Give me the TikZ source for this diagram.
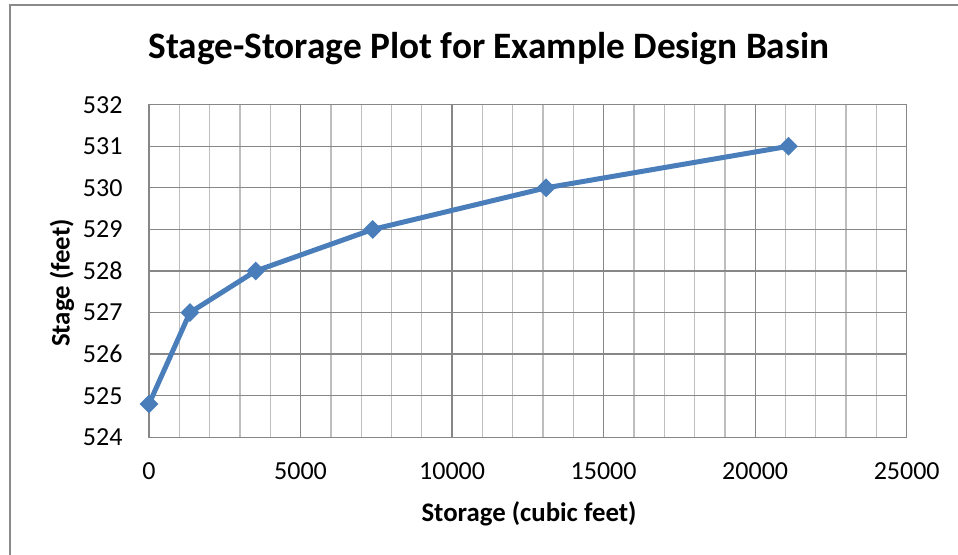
\documentclass[tikz,border=0pt]{standalone}
\usepackage{fontspec}
\setmainfont{Carlito}
\usetikzlibrary{shapes.geometric}
\definecolor{serieblue}{HTML}{4A7EBB}
\definecolor{majgrid}{HTML}{878787}
\definecolor{mingrid}{HTML}{BEBEBE}
\definecolor{framegray}{HTML}{8A8A8A}
\tikzset{
  minorgrid/.style={draw=mingrid, line width=1.3pt},
  majorgrid/.style={draw=majgrid, line width=1.3pt},
  ticklab/.style={font=\fontsize{26}{28}\selectfont, inner sep=0pt},
  axtitle/.style={font=\fontsize{26.8}{28}\selectfont\bfseries, inner sep=0pt},
  serieline/.style={draw=serieblue, line width=5pt, line join=round},
  marker/.style={diamond, fill=serieblue, draw=none, minimum width=19pt, minimum height=19pt, inner sep=0pt},
}
\begin{document}
\begin{tikzpicture}[x=1pt,y=1pt]
\useasboundingbox (0,0) rectangle (958,554);
% chart frame (only left and top edges visible)
\coordinate (fbl) at (10,-5);
\coordinate (ftl) at (10,549);
\coordinate (ftr) at (965,549);
\draw[framegray, line width=2pt] (fbl) -- (ftl) -- (ftr);
% title
\node[font=\fontsize{37.3}{39}\selectfont\bfseries, inner sep=0pt, anchor=base] (title) at (489,495) {Stage-Storage Plot for Example Design Basin};
% storage in thousands of cubic feet, stage minus 524 ft
\begin{scope}[shift={(149,116.7)}, x=30.308pt, y=41.575pt]
  % minor vertical grid
  \foreach \v in {1,...,24} {
    \draw[minorgrid] (\v,0) -- (\v,8);
  }
  % major vertical grid
  \foreach \v in {5,10,15,20} {
    \draw[majorgrid] (\v,0) -- (\v,8);
  }
  % horizontal grid
  \foreach \h in {1,...,7} {
    \draw[majorgrid] (0,\h) -- (25,\h);
  }
  \draw[majorgrid] (0,0) rectangle (25,8);
  % y tick labels
  \foreach \h/\lab in {0/524,1/525,2/526,3/527,4/528,5/529,6/530,7/531,8/532} {
    \node[ticklab, anchor=east] (yl\lab) at (-0.87,\h) {\lab};
  }
  % x tick labels
  \foreach \v/\lab in {0/0,5/5000,10/10000,15/15000,20/20000,25/25000} {
    \node[ticklab, anchor=base] (xl\v) at (\v,-1.025) {\lab};
  }
  % data
  \coordinate (p1) at (0,0.8);
  \coordinate (p2) at (1.35,3);
  \coordinate (p3) at (3.52,4);
  \coordinate (p4) at (7.38,5);
  \coordinate (p5) at (13.1,6);
  \coordinate (p6) at (21.1,7);
  \draw[serieline] (p1) -- (p2) -- (p3) -- (p4) -- (p5) -- (p6);
  \foreach \p in {p1,p2,p3,p4,p5,p6} {
    \node[marker] (m\p) at (\p) {};
  }
\end{scope}
% axis titles
\node[axtitle, anchor=base] (xtitle) at (529,32) {Storage (cubic feet)};
\node[axtitle, rotate=90] (ytitle) at (62,271) {Stage (feet)};
\end{tikzpicture}
\end{document}
